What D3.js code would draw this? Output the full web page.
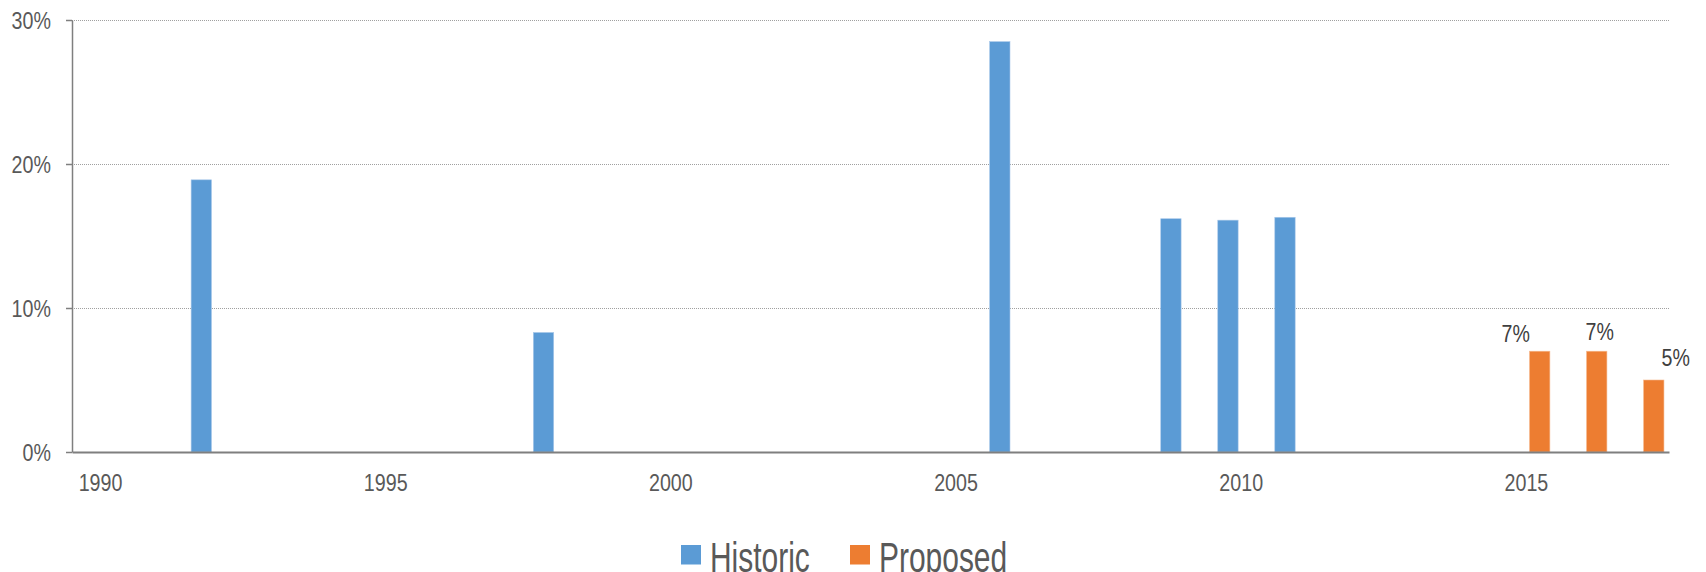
<!DOCTYPE html>
<html>
<head>
<meta charset="utf-8">
<script src="https://cdn.jsdelivr.net/npm/d3@7"></script>
<style>
    html, body { margin: 0; padding: 0; background: #fff; }
    svg { display: block; font-family: "Liberation Sans", Arial, sans-serif; }
</style>
</head>
<body>
<svg id="chart" width="1706" height="572"></svg>
<script>
// Years on the category axis
const years = d3.range(1990, 2018);
const tickYears = [1990, 1995, 2000, 2005, 2010, 2015];
const seriesNames = ["Historic", "Proposed"];

// Historic increases (share)
const historicYears = [1992, 1998, 2006, 2009, 2010, 2011];
const historicValues = [0.189, 0.083, 0.285, 0.162, 0.161, 0.163];

// Proposed increases (share)
const proposedYears = [2015, 2016, 2017];
const proposedValues = [0.07, 0.07, 0.05];
const proposedLabels = ["7%", "7%", "5%"];

const yTicks = [0, 0.1, 0.2, 0.3];

const COLORS = {
    Historic: "#5B9BD5",
    Proposed: "#ED7D31"
};
const TEXT_COLOR = "#595959";
// manual nudges of the value labels (px), as they sit in the original
const labelNudge = [[-24, 0], [3, -2], [22, -5]];
// the original uses a condensed face; no narrow font here, so squeeze
const NARROW = 0.82;

const svg = d3.select("#chart");
const margin = { left: 72, right: 1706 - 1669, top: 20, bottom: 572 - 452 };
const width = 1706;
const height = 572;

// squeeze text horizontally around its anchor point
function narrow(sel, k = NARROW) {
    sel.each(function () {
        const t = d3.select(this);
        const x0 = +t.attr("x") || 0;
        t.attr("x", 0).attr("transform", `translate(${x0},0) scale(${k},1)`);
    });
}

const x = d3.scaleBand()
    .domain(years)
    .range([margin.left, width - margin.right])
    .paddingInner(0)
    .paddingOuter(0);

const xSub = d3.scaleBand()
    .domain(seriesNames)
    .range([0, x.bandwidth()])
    .paddingInner(0.233)
    .paddingOuter(0.19);

const y = d3.scaleLinear()
    .domain([0, 0.3])
    .range([height - margin.bottom, margin.top]);

// Gridlines (dotted)
svg.append("g")
    .selectAll("line")
    .data(yTicks.filter(d => d > 0))
    .join("line")
    .attr("x1", margin.left)
    .attr("x2", width - margin.right)
    .attr("y1", d => Math.round(y(d)) + 0.5)
    .attr("y2", d => Math.round(y(d)) + 0.5)
    .attr("stroke", "#a0a0a0")
    .attr("stroke-width", 1)
    .attr("stroke-dasharray", "1,1");

// Y axis
const yAxis = svg.append("g")
    .attr("transform", `translate(${margin.left},0)`)
    .call(d3.axisLeft(y)
        .tickValues(yTicks)
        .tickFormat(d3.format(".0%"))
        .tickSizeInner(6)
        .tickSizeOuter(0)
        .tickPadding(15));
yAxis.select(".domain").attr("stroke", "#7f7f7f").attr("stroke-width", 1.5);
yAxis.selectAll(".tick line").attr("stroke", "#7f7f7f").attr("stroke-width", 1.5);
yAxis.selectAll(".tick text")
    .attr("fill", TEXT_COLOR)
    .attr("font-size", "24px")
    .attr("dy", "0.34em")
    .attr("font-family", "Liberation Sans, Arial, sans-serif")
    .call(narrow);

// Bars
const bars = svg.append("g");
bars.selectAll("rect.historic")
    .data(historicYears.map((yr, i) => ({ yr, v: historicValues[i] })))
    .join("rect")
    .attr("class", "historic")
    .attr("x", d => x(d.yr) + xSub("Historic"))
    .attr("width", xSub.bandwidth())
    .attr("y", d => y(d.v))
    .attr("height", d => y(0) - y(d.v))
    .attr("fill", COLORS.Historic)
    .attr("stroke", "#a9c8ea")
    .attr("stroke-width", 0.6);

bars.selectAll("rect.proposed")
    .data(proposedYears.map((yr, i) => ({ yr, v: proposedValues[i] })))
    .join("rect")
    .attr("class", "proposed")
    .attr("x", d => x(d.yr) + xSub("Proposed"))
    .attr("width", xSub.bandwidth())
    .attr("y", d => y(d.v))
    .attr("height", d => y(0) - y(d.v))
    .attr("fill", COLORS.Proposed)
    .attr("stroke", "#f5b98f")
    .attr("stroke-width", 0.6);

// Value labels for proposed bars
svg.append("g")
    .selectAll("text")
    .data(proposedYears.map((yr, i) => ({ yr, v: proposedValues[i], label: proposedLabels[i], nudge: labelNudge[i] })))
    .join("text")
    .attr("x", d => x(d.yr) + xSub("Proposed") + xSub.bandwidth() / 2 + d.nudge[0])
    .attr("y", d => y(d.v) - 9 + d.nudge[1])
    .attr("text-anchor", "middle")
    .attr("font-size", "24.5px")
    .attr("fill", "#404040")
    .text(d => d.label)
    .call(narrow, 0.8);

// X axis
const xAxis = svg.append("g")
    .attr("transform", `translate(0,${y(0)})`)
    .call(d3.axisBottom(x)
        .tickValues(tickYears)
        .tickSize(0)
        .tickSizeOuter(0)
        .tickPadding(22));
xAxis.select(".domain").attr("stroke", "#7f7f7f").attr("stroke-width", 2);
xAxis.selectAll(".tick text")
    .attr("fill", TEXT_COLOR)
    .attr("font-size", "24px")
    .attr("font-family", "Liberation Sans, Arial, sans-serif")
    .call(narrow);

// Legend
const legend = svg.append("g").attr("transform", "translate(681,545)");
const legendItems = [
    { name: "Historic", dx: 0 },
    { name: "Proposed", dx: 169 }
];
const li = legend.selectAll("g")
    .data(legendItems)
    .join("g")
    .attr("transform", d => `translate(${d.dx},0)`);
li.append("rect")
    .attr("width", 20)
    .attr("height", 19.5)
    .attr("fill", d => COLORS[d.name]);
li.append("text")
    .attr("x", 29)
    .attr("y", 27)
    .attr("font-size", "42px")
    .attr("fill", TEXT_COLOR)
    .text(d => d.name)
    .call(narrow, 0.713);
</script>
</body>
</html>
